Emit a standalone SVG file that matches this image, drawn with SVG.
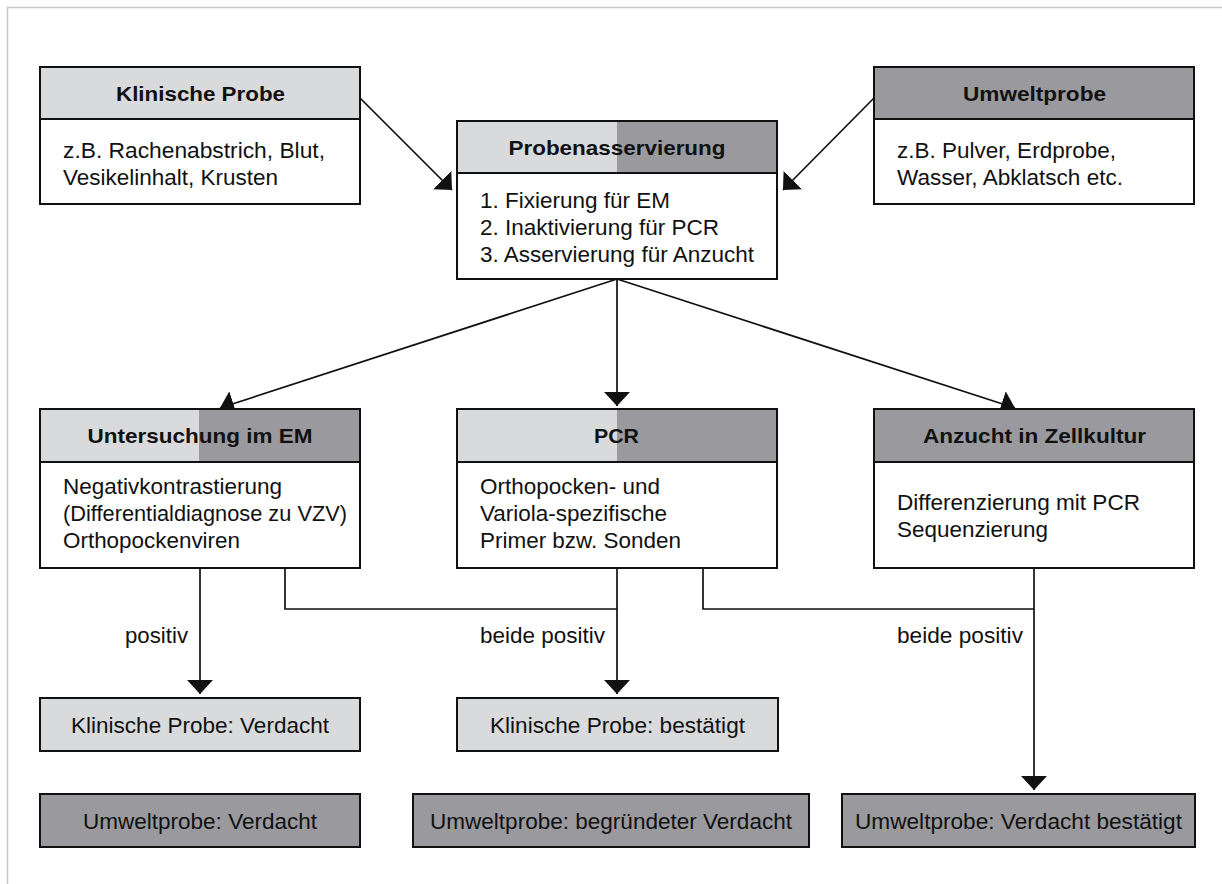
<svg xmlns="http://www.w3.org/2000/svg" width="1222" height="884" viewBox="0 0 1222 884">
<style>
.bg{fill:#ffffff}
.frame{stroke:#c8c8c8;stroke-width:1.5;fill:none}
.box{fill:none;stroke:#111;stroke-width:2}
.body{fill:#ffffff}
.lt{fill:#d9dadc}
.dk{fill:#9a999e}
.div{stroke:#111;stroke-width:2}
.h{font-family:"Liberation Sans",Arial,sans-serif;font-weight:bold;font-size:21px;fill:#111;text-anchor:middle}
.t{font-family:"Liberation Sans",Arial,sans-serif;font-size:21.5px;fill:#111}
.c{font-family:"Liberation Sans",Arial,sans-serif;font-size:21.5px;fill:#111;text-anchor:middle}
.ln{stroke:#111;stroke-width:1.7;fill:none}
</style>
<defs>
<marker id="ah" viewBox="0 0 14 26" refX="14" refY="13" markerWidth="14" markerHeight="26" markerUnits="userSpaceOnUse" orient="auto">
<path d="M0,0 L14,13 L0,26 Z" fill="#111"/>
</marker>
</defs>
<rect class="bg" x="0" y="0" width="1222" height="884"/>
<path class="frame" d="M7.5,884 L7.5,7.5 L1222,7.5"/>

<g id="connectors">
<line class="ln" x1="360" y1="98" x2="452" y2="190" marker-end="url(#ah)"/>
<line class="ln" x1="874" y1="98" x2="783" y2="190" marker-end="url(#ah)"/>
<line class="ln" x1="617" y1="279" x2="220" y2="408" marker-end="url(#ah)"/>
<line class="ln" x1="617" y1="279" x2="617" y2="406" marker-end="url(#ah)"/>
<line class="ln" x1="617" y1="279" x2="1015" y2="408" marker-end="url(#ah)"/>
<line class="ln" x1="200" y1="568" x2="200" y2="694" marker-end="url(#ah)"/>
<line class="ln" x1="617" y1="568" x2="617" y2="694" marker-end="url(#ah)"/>
<line class="ln" x1="1034" y1="568" x2="1034" y2="790" marker-end="url(#ah)"/>
<path class="ln" d="M285,568 L285,609 L617,609"/>
<path class="ln" d="M703,568 L703,609 L1034,609"/>
<text class="t" x="125" y="643" textLength="63" lengthAdjust="spacingAndGlyphs">positiv</text>
<text class="t" x="480" y="643" textLength="125" lengthAdjust="spacingAndGlyphs">beide positiv</text>
<text class="t" x="897" y="643" textLength="126" lengthAdjust="spacingAndGlyphs">beide positiv</text>
</g>

<g id="klinische-probe">
<rect class="lt" x="40" y="67" width="320" height="52"/>
<rect class="body" x="40" y="119" width="320" height="85"/>
<rect class="box" x="40" y="67" width="320" height="137"/>
<line class="div" x1="40" y1="119" x2="360" y2="119"/>
<text class="h" x="200.5" y="101" textLength="169" lengthAdjust="spacingAndGlyphs">Klinische Probe</text>
<text class="t" x="63" y="158" textLength="262" lengthAdjust="spacingAndGlyphs">z.B. Rachenabstrich, Blut,</text>
<text class="t" x="63" y="185" textLength="215" lengthAdjust="spacingAndGlyphs">Vesikelinhalt, Krusten</text>
</g>

<g id="umweltprobe">
<rect class="dk" x="874" y="67" width="320" height="52"/>
<rect class="body" x="874" y="119" width="320" height="85"/>
<rect class="box" x="874" y="67" width="320" height="137"/>
<line class="div" x1="874" y1="119" x2="1194" y2="119"/>
<text class="h" x="1034.5" y="101" textLength="143" lengthAdjust="spacingAndGlyphs">Umweltprobe</text>
<text class="t" x="897" y="158" textLength="219" lengthAdjust="spacingAndGlyphs">z.B. Pulver, Erdprobe,</text>
<text class="t" x="897" y="185" textLength="226" lengthAdjust="spacingAndGlyphs">Wasser, Abklatsch etc.</text>
</g>

<g id="probenasservierung">
<rect class="lt" x="457" y="121" width="160" height="52"/>
<rect class="dk" x="617" y="121" width="160" height="52"/>
<rect class="body" x="457" y="173" width="320" height="106"/>
<rect class="box" x="457" y="121" width="320" height="158"/>
<line class="div" x1="457" y1="173" x2="777" y2="173"/>
<text class="h" x="617" y="155" textLength="217" lengthAdjust="spacingAndGlyphs">Probenasservierung</text>
<text class="t" x="480" y="208" textLength="190" lengthAdjust="spacingAndGlyphs">1. Fixierung für EM</text>
<text class="t" x="480" y="235" textLength="239" lengthAdjust="spacingAndGlyphs">2. Inaktivierung für PCR</text>
<text class="t" x="480" y="262" textLength="274" lengthAdjust="spacingAndGlyphs">3. Asservierung für Anzucht</text>
</g>

<g id="em">
<rect class="lt" x="40" y="409" width="159" height="53"/>
<rect class="dk" x="199" y="409" width="161" height="53"/>
<rect class="body" x="40" y="462" width="320" height="106"/>
<rect class="box" x="40" y="409" width="320" height="159"/>
<line class="div" x1="40" y1="462" x2="360" y2="462"/>
<text class="h" x="200" y="443" textLength="225" lengthAdjust="spacingAndGlyphs">Untersuchung im EM</text>
<text class="t" x="63" y="494" textLength="219" lengthAdjust="spacingAndGlyphs">Negativkontrastierung</text>
<text class="t" x="63" y="521" textLength="284" lengthAdjust="spacingAndGlyphs">(Differentialdiagnose zu VZV)</text>
<text class="t" x="63" y="548" textLength="177" lengthAdjust="spacingAndGlyphs">Orthopockenviren</text>
</g>

<g id="pcr">
<rect class="lt" x="457" y="409" width="160" height="53"/>
<rect class="dk" x="617" y="409" width="160" height="53"/>
<rect class="body" x="457" y="462" width="320" height="106"/>
<rect class="box" x="457" y="409" width="320" height="159"/>
<line class="div" x1="457" y1="462" x2="777" y2="462"/>
<text class="h" x="616.5" y="443" textLength="45" lengthAdjust="spacingAndGlyphs">PCR</text>
<text class="t" x="480" y="494" textLength="180" lengthAdjust="spacingAndGlyphs">Orthopocken- und</text>
<text class="t" x="480" y="521" textLength="187" lengthAdjust="spacingAndGlyphs">Variola-spezifische</text>
<text class="t" x="480" y="548" textLength="201" lengthAdjust="spacingAndGlyphs">Primer bzw. Sonden</text>
</g>

<g id="anzucht">
<rect class="dk" x="874" y="409" width="320" height="53"/>
<rect class="body" x="874" y="462" width="320" height="106"/>
<rect class="box" x="874" y="409" width="320" height="159"/>
<line class="div" x1="874" y1="462" x2="1194" y2="462"/>
<text class="h" x="1034.5" y="443" textLength="223" lengthAdjust="spacingAndGlyphs">Anzucht in Zellkultur</text>
<text class="t" x="897" y="510" textLength="243" lengthAdjust="spacingAndGlyphs">Differenzierung mit PCR</text>
<text class="t" x="897" y="537" textLength="151" lengthAdjust="spacingAndGlyphs">Sequenzierung</text>
</g>

<g id="klin-verdacht">
<rect class="lt" x="40" y="698" width="320" height="53"/>
<rect class="box" x="40" y="698" width="320" height="53"/>
<text class="c" x="200" y="733" textLength="258" lengthAdjust="spacingAndGlyphs">Klinische Probe: Verdacht</text>
</g>

<g id="klin-bestaetigt">
<rect class="lt" x="457" y="698" width="321" height="53"/>
<rect class="box" x="457" y="698" width="321" height="53"/>
<text class="c" x="617.5" y="733" textLength="255" lengthAdjust="spacingAndGlyphs">Klinische Probe: bestätigt</text>
</g>

<g id="umwelt-verdacht">
<rect class="dk" x="40" y="794" width="320" height="53"/>
<rect class="box" x="40" y="794" width="320" height="53"/>
<text class="c" x="200" y="829" textLength="234" lengthAdjust="spacingAndGlyphs">Umweltprobe: Verdacht</text>
</g>

<g id="umwelt-begruendet">
<rect class="dk" x="413" y="794" width="396" height="53"/>
<rect class="box" x="413" y="794" width="396" height="53"/>
<text class="c" x="611" y="829" textLength="362" lengthAdjust="spacingAndGlyphs">Umweltprobe: begründeter Verdacht</text>
</g>

<g id="umwelt-bestaetigt">
<rect class="dk" x="842" y="794" width="353" height="53"/>
<rect class="box" x="842" y="794" width="353" height="53"/>
<text class="c" x="1018.5" y="829" textLength="327" lengthAdjust="spacingAndGlyphs">Umweltprobe: Verdacht bestätigt</text>
</g>
</svg>
